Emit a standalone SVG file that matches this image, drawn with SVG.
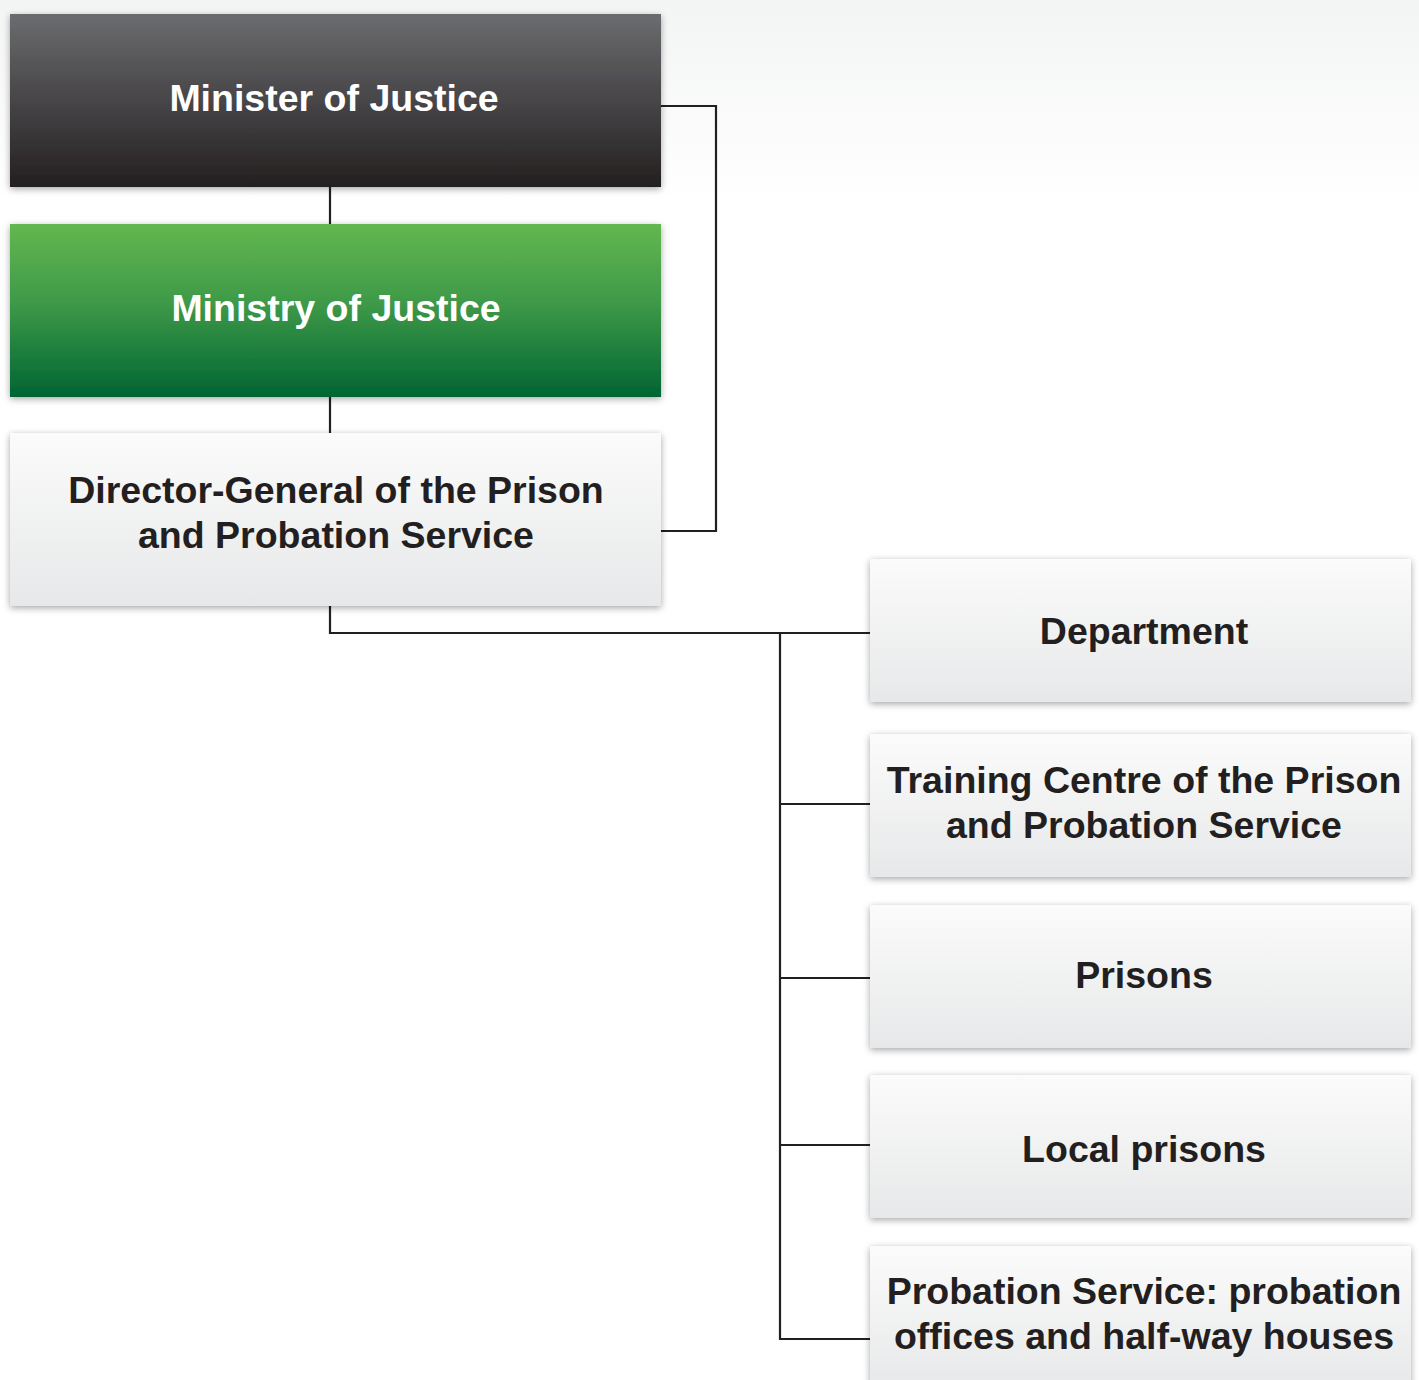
<svg xmlns="http://www.w3.org/2000/svg" width="1419" height="1380" viewBox="0 0 1419 1380">
<defs>
<linearGradient id="bg" x1="0" y1="0" x2="0" y2="1">
<stop offset="0" stop-color="#f3f4f4"/><stop offset="1" stop-color="#ffffff"/>
</linearGradient>
<linearGradient id="gDark" x1="0" y1="0" x2="0" y2="1">
<stop offset="0" stop-color="#6b6c6f"/><stop offset="1" stop-color="#231f20"/>
</linearGradient>
<linearGradient id="gGreen" x1="0" y1="0" x2="0" y2="1">
<stop offset="0" stop-color="#63b750"/><stop offset="0.45" stop-color="#3f9a48"/><stop offset="1" stop-color="#006533"/>
</linearGradient>
<linearGradient id="gLight" x1="0" y1="0" x2="0" y2="1">
<stop offset="0" stop-color="#fbfbfb"/><stop offset="1" stop-color="#e7e8e9"/>
</linearGradient>
<filter id="sh" x="-5%" y="-10%" width="110%" height="125%">
<feDropShadow dx="0" dy="2" stdDeviation="3.5" flood-color="#000" flood-opacity="0.35"/>
</filter>
</defs>
<style>
.t{font-family:"Liberation Sans",Arial,sans-serif;font-weight:bold;font-size:37.5px;text-anchor:middle}
.w{fill:#ffffff}
.d{fill:#231f20}
.ln{fill:none;stroke:#231f20;stroke-width:2.2}
</style>
<rect x="0" y="0" width="1419" height="200" fill="url(#bg)"/>
<rect x="0" y="200" width="1419" height="1180" fill="#ffffff"/>
<g id="connectors">
<path class="ln" d="M661,106 H716 V531 H661"/>
<path class="ln" d="M330,187 V224"/>
<path class="ln" d="M330,397 V433"/>
<path class="ln" d="M330,606 V633 H870"/>
<path class="ln" d="M780,633 V1339 H870"/>
<path class="ln" d="M780,804 H870"/>
<path class="ln" d="M780,978 H870"/>
<path class="ln" d="M780,1145 H870"/>
</g>
<g id="minister">
<rect x="10" y="14" width="651" height="173" fill="url(#gDark)" filter="url(#sh)"/>
<text class="t w" x="334" y="111">Minister of Justice</text>
</g>
<g id="ministry">
<rect x="10" y="224" width="651" height="173" fill="url(#gGreen)" filter="url(#sh)"/>
<text class="t w" x="336" y="321">Ministry of Justice</text>
</g>
<g id="director">
<rect x="10" y="433" width="651" height="173" fill="url(#gLight)" filter="url(#sh)"/>
<text class="t d" x="336" y="503">Director-General of the Prison</text>
<text class="t d" x="336" y="548">and Probation Service</text>
</g>
<g id="department">
<rect x="870" y="559" width="541" height="143" fill="url(#gLight)" filter="url(#sh)"/>
<text class="t d" x="1144" y="644">Department</text>
</g>
<g id="training">
<rect x="870" y="734" width="541" height="143" fill="url(#gLight)" filter="url(#sh)"/>
<text class="t d" x="1144" y="793">Training Centre of the Prison</text>
<text class="t d" x="1144" y="838">and Probation Service</text>
</g>
<g id="prisons">
<rect x="870" y="905" width="541" height="143" fill="url(#gLight)" filter="url(#sh)"/>
<text class="t d" x="1144" y="988">Prisons</text>
</g>
<g id="local">
<rect x="870" y="1075" width="541" height="143" fill="url(#gLight)" filter="url(#sh)"/>
<text class="t d" x="1144" y="1162">Local prisons</text>
</g>
<g id="probation">
<rect x="870" y="1246" width="541" height="143" fill="url(#gLight)" filter="url(#sh)"/>
<text class="t d" x="1144" y="1304">Probation Service: probation</text>
<text class="t d" x="1144" y="1349">offices and half-way houses</text>
</g>
</svg>
